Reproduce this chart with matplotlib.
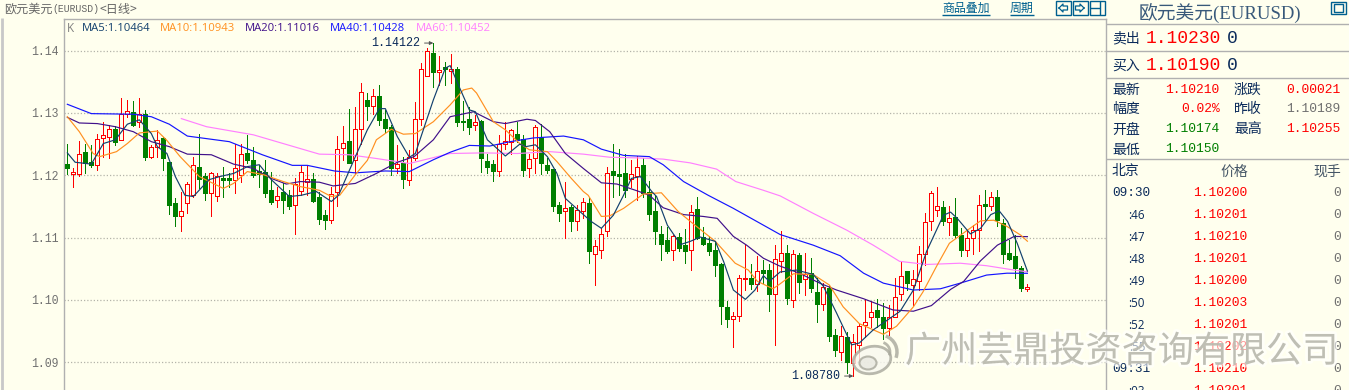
import matplotlib
matplotlib.use("Agg")
import matplotlib.pyplot as plt
import matplotlib.patheffects as pe
from matplotlib.patches import Ellipse, Rectangle, Arc

BG = '#ffffee'
UP = '#ff0000'
DOWN = '#007f00'
NAVY = '#0a2a5a'
LINK = '#00608f'
GRAY = '#707070'
CJK = 'Noto Sans CJK SC'
MONO = 'Liberation Mono'

# daily candles
opens = [1.1218,1.1202,1.1202,1.1237,1.1221,1.1217,1.1260,1.1262,1.1274,1.1256,
         1.1299,1.1302,1.1285,1.1298,1.1229,1.1245,1.1260,1.1222,1.1155,1.1134,
         1.1155,1.1168,1.1213,1.1199,1.1172,1.1167,1.1196,1.1196,1.1193,1.1201,
         1.1236,1.1225,1.1207,1.1206,1.1176,1.1161,1.1174,1.1168,1.1153,1.1175,
         1.1190,1.1194,1.1166,1.1136,1.1129,1.1174,1.1244,1.1255,1.1224,1.1275,
         1.1321,1.1312,1.1327,1.1291,1.1277,1.1211,1.1220,1.1193,1.1228,1.1291,
         1.1359,1.1396,1.1366,1.1374,1.1367,1.1371,1.1287,1.1290,1.1280,1.1287,
         1.1223,1.1218,1.1207,1.1251,1.1254,1.1267,1.1259,1.1211,1.1227,1.1262,
         1.1216,1.1210,1.1152,1.1142,1.1149,1.1126,1.1143,1.1155,1.1073,1.1081,
         1.1111,1.1207,1.1202,1.1204,1.1194,1.1199,1.1217,1.1173,1.1142,1.1106,
         1.1096,1.1080,1.1101,1.1089,1.1080,1.1146,1.1101,1.1091,1.1081,1.1058,
         1.0988,1.0970,1.0974,1.1033,1.1035,1.1025,1.1048,1.1048,1.1009,1.1063,
         1.1076,1.1000,1.1072,1.1033,1.1043,1.1013,1.0994,1.1019,1.0944,1.0916,
         1.0941,1.0899,1.0928,1.0960,1.0972,1.0984,1.0972,1.0955,1.0973,1.1009,
         1.1047,1.1024,1.1031,1.1073,1.1126,1.1144,1.1149,1.1125,1.1133,1.1105,
         1.1081,1.1100,1.1112,1.1154,1.1151,1.1166,1.1123,1.1075,1.1071,1.1051,1.10174]
closes = [1.1212,1.1205,1.1234,1.1220,1.1216,1.1259,1.1264,1.1275,1.1254,1.1299,
          1.1304,1.1281,1.1299,1.1230,1.1245,1.1257,1.1228,1.1153,1.1134,1.1142,
          1.1186,1.1216,1.1194,1.1172,1.1203,1.1199,1.1192,1.1192,1.1212,1.1235,
          1.1225,1.1201,1.1202,1.1172,1.1158,1.1167,1.1160,1.1150,1.1186,1.1206,
          1.1194,1.1159,1.1130,1.1128,1.1170,1.1242,1.1252,1.1220,1.1275,1.1333,
          1.1312,1.1327,1.1288,1.1276,1.1211,1.1218,1.1194,1.1229,1.1291,1.1370,
          1.1399,1.1366,1.1369,1.1370,1.1370,1.1285,1.1286,1.1278,1.1285,1.1227,
          1.1214,1.1207,1.1251,1.1255,1.1272,1.1257,1.1209,1.1226,1.1277,1.1220,
          1.1209,1.1151,1.1140,1.1147,1.1127,1.1145,1.1157,1.1078,1.1086,1.1106,
          1.1203,1.1201,1.1199,1.1176,1.1202,1.1214,1.1171,1.1138,1.1110,1.1090,
          1.1078,1.1102,1.1084,1.1079,1.1141,1.1100,1.1090,1.1078,1.1056,1.0990,
          1.0970,1.0975,1.1035,1.1035,1.1026,1.1047,1.1043,1.1010,1.1065,1.1075,
          1.1003,1.1074,1.1029,1.1041,1.1020,1.0994,1.1021,1.0943,1.0920,1.0942,
          1.0900,1.0932,1.0959,1.0964,1.0980,1.0972,1.0955,1.0972,1.1005,1.1039,
          1.1028,1.1034,1.1073,1.1125,1.1172,1.1150,1.1126,1.1131,1.1104,1.1080,
          1.1099,1.1113,1.1152,1.1151,1.1166,1.1128,1.1074,1.1066,1.1052,1.1020,1.1021]
highs = [1.1250,1.1211,1.1255,1.1251,1.1248,1.1266,1.1286,1.1281,1.1279,1.1324,
         1.1321,1.1320,1.1324,1.1305,1.1248,1.1272,1.1262,1.1222,1.1163,1.1174,
         1.1190,1.1230,1.1266,1.1204,1.1206,1.1203,1.1214,1.1203,1.1251,1.1251,
         1.1265,1.1246,1.1217,1.1225,1.1206,1.1182,1.1187,1.1176,1.1195,1.1215,
         1.1215,1.1203,1.1174,1.1144,1.1182,1.1263,1.1279,1.1307,1.1309,1.1348,
         1.1332,1.1338,1.1345,1.1305,1.1281,1.1249,1.1230,1.1241,1.1318,1.1380,
         1.1405,1.14122,1.1391,1.1382,1.1394,1.1373,1.1320,1.1310,1.1296,1.1289,
         1.1235,1.1225,1.1265,1.1286,1.1275,1.1286,1.1265,1.1234,1.1281,1.1282,
         1.1227,1.1210,1.1157,1.1190,1.1153,1.1152,1.1163,1.1166,1.1097,1.1115,
         1.1214,1.1250,1.1242,1.1235,1.1225,1.1231,1.1227,1.1191,1.1168,1.1118,
         1.1117,1.1105,1.1108,1.1114,1.1153,1.1165,1.1117,1.1102,1.1094,1.1060,
         1.0998,1.0980,1.1040,1.1088,1.1057,1.1071,1.1064,1.1058,1.1088,1.1111,
         1.1088,1.1080,1.1076,1.1076,1.1068,1.1035,1.1028,1.1024,1.0954,1.0959,
         1.0948,1.0945,1.0962,1.1000,1.0998,1.1001,1.0995,1.0992,1.1035,1.1063,
         1.1047,1.1048,1.1087,1.1140,1.1175,1.1181,1.1159,1.1150,1.1164,1.1115,
         1.1112,1.1121,1.1168,1.1176,1.1173,1.1176,1.1130,1.1096,1.1104,1.1054,1.10255]
lows = [1.1202,1.1182,1.1199,1.1204,1.1214,1.1209,1.1230,1.1228,1.1249,1.1256,
        1.1293,1.1279,1.1278,1.1224,1.1227,1.1230,1.1209,1.1138,1.1118,1.1110,
        1.1140,1.1166,1.1179,1.1160,1.1134,1.1159,1.1166,1.1182,1.1172,1.1190,
        1.1219,1.1198,1.1182,1.1165,1.1154,1.1149,1.1140,1.1146,1.1106,1.1168,
        1.1168,1.1158,1.1122,1.1114,1.1124,1.1151,1.1225,1.1219,1.1203,1.1251,
        1.1288,1.1299,1.1281,1.1270,1.1201,1.1203,1.1179,1.1184,1.1225,1.1281,
        1.1359,1.1342,1.1345,1.1345,1.1348,1.1279,1.1272,1.1266,1.1272,1.1205,
        1.1204,1.1191,1.1199,1.1243,1.1235,1.1254,1.1199,1.1198,1.1204,1.1202,
        1.1204,1.1143,1.1126,1.1100,1.1111,1.1112,1.1131,1.1060,1.1024,1.1068,
        1.1102,1.1166,1.1168,1.1166,1.1182,1.1160,1.1165,1.1129,1.1090,1.1064,
        1.1076,1.1064,1.1079,1.1060,1.1048,1.1098,1.1088,1.1072,1.1039,1.0961,
        1.0956,1.0924,1.0967,1.1016,1.1018,1.1014,1.1028,1.0983,1.0927,1.1045,
        1.0993,1.0989,1.1012,1.1008,1.1013,1.0964,1.0984,1.0935,1.0910,1.0904,
        1.0883,1.0878,1.0904,1.0941,1.0957,1.0956,1.0938,1.0944,1.0972,1.1000,
        1.1016,1.0992,1.1016,1.1056,1.1112,1.1135,1.1121,1.1105,1.1099,1.1071,
        1.1071,1.1073,1.1079,1.1128,1.1144,1.1119,1.1059,1.1064,1.1036,1.1014,1.1015]

# moving averages, read as (candle index, value) vertices
ma5_x = [0,1.3,4,6,8,10,12,14,15,16.6,18,19.6,21,23.6,25.4,27.7,30,32,34,37,39,41.5,44,45.2,48,50,52,53,55,57,58,61,63,
         63.8,65.4,67,68,70,73,75.4,76.4,78,80,81.6,83,85.3,87.3,89,91,92.7,94,95.5,97.4,98.2,100,102.2,103.8,105.5,108,
         109.4,111,113,114.6,116,117,118.8,121.5,124.3,126,128.2,130.7,132,134.3,137,138.8,141,143.2,146,147.2,148.3,
         150.5,152.2,153.9,155.3,156.7,158.3,160]
ma5_y = [1.1236,1.1221,1.1218,1.1251,1.1257,1.1282,1.1289,1.1267,1.1246,1.1235,1.1198,1.1168,1.1166,1.1193,1.1198,1.1203,
         1.1214,1.1217,1.1193,1.1166,1.1168,1.1174,1.1158,1.1168,1.1230,1.1273,1.1307,1.1307,1.1262,1.1229,1.1235,1.1321,1.1372,
         1.1376,1.1340,1.1305,1.1302,1.1257,1.1231,1.1250,1.1246,1.1249,1.1230,1.1203,1.1163,1.1143,1.1126,1.1115,1.1136,1.1168,
         1.1195,1.1198,1.1174,1.1166,1.1120,1.1089,1.1094,1.1101,1.1094,1.1061,1.1016,1.1001,1.1016,1.1039,1.1030,1.1045,1.1048,
         1.1041,1.1022,1.0979,1.0928,1.0931,1.0952,1.0970,1.0982,1.1016,1.1078,1.1136,1.1141,1.1131,1.1106,1.1115,1.1137,1.1143,
         1.1126,1.1091,1.10464]
ma10_x = [0,2,4.3,5.4,8.2,10,12,15,16.5,18.8,22,26,27.7,30,32.7,36,38.8,42,44,45.4,48,50,51.5,54,56,58,61,63.8,
          66,67.4,68.2,71,73,75.4,77,80,81.6,84,86,86.8,89,90.4,92.7,96,99,101.8,104.6,108,111.3,113.5,115,117.6,118.8,
          121,124.3,127,129.3,132,136,138.2,141,142.6,144.8,147,150,152.2,154.4,156.6,158.9,160]
ma10_y = [1.1294,1.1270,1.1235,1.1230,1.1238,1.1251,1.1268,1.1271,1.1257,1.1230,1.1198,1.1179,1.1187,1.1206,1.1201,1.1190,
          1.1182,1.1176,1.1166,1.1168,1.1201,1.1224,1.1257,1.1274,1.1266,1.1267,1.1286,1.1313,
          1.1337,1.1340,1.1332,1.1286,1.1273,1.1251,1.1241,1.1238,1.1222,1.1195,1.1174,1.1168,1.1134,1.1135,1.1147,1.1170,1.1172,
          1.1142,1.1120,1.1094,1.1059,1.1048,1.1030,1.1018,1.1026,1.1042,1.1041,1.1024,1.0989,1.0962,1.0945,1.0958,1.0989,1.1013,
          1.1053,1.1091,1.1112,1.1127,1.1128,1.1118,1.1104,1.10943]
ma20_x = [0,2,5,8,11,14,17,20,24,27.7,31,34,36.5,38.8,42,44.3,48,51.5,55,57.8,61,63.8,67.7,71,73,76.6,78,80.4,83,86,89,91.6,95,97,
          99.3,102.7,106,108.3,111,113.2,116,118.6,122,125.4,128.2,132.7,137.6,141,144,147.2,149.4,152.2,155,157.8,160]
ma20_y = [1.1293,1.1284,1.1283,1.1278,1.1270,1.1254,1.1246,1.1234,1.1233,1.1218,1.1211,1.1195,1.1186,1.1190,1.1189,1.1183,
          1.1187,1.1203,1.1221,1.1230,1.1257,1.1294,1.1302,1.1286,1.1283,1.1290,1.1288,1.1270,1.1235,1.1211,1.1188,1.1186,1.1175,
          1.1168,1.1148,1.1137,1.1134,1.1131,1.1102,1.1088,1.1067,1.1055,1.1043,1.1027,1.1016,1.1002,1.0984,1.0982,1.0991,1.1017,
          1.1030,1.1063,1.1088,1.1102,1.11016]
ma40_x = [0,4,11,14,17,20,27,32.5,37.5,40,44.5,48,53,57,61,63.8,67,70.4,73.8,77.7,82.7,86,89,92.7,97,99.3,102.7,106.8,111,118.8,
          124.3,128.8,132.7,136,141,145.5,148.8,153.2,156.6,160]
ma40_y = [1.1314,1.1299,1.1298,1.1294,1.1282,1.1263,1.1254,1.1233,1.1216,1.1216,1.1207,1.1204,1.1207,1.1206,1.1225,1.1237,
          1.1248,1.1247,1.1254,1.1260,1.1263,1.1257,1.1242,1.1232,1.1230,1.1217,1.1190,1.1168,1.1147,1.1105,1.1088,1.1071,1.1043,
          1.1027,1.1016,1.1018,1.1027,1.1040,1.1043,1.10428]
ma60_x = [19,23.2,31,38.8,42,47,51.5,57,63.8,69.3,75,80.4,86,90.4,95,99.3,103.8,108.2,111.4,116,118.8,124.3,129.9,134.3,138.7,
          143.2,148.8,153.2,157.8,160]
ma60_y = [1.1291,1.1278,1.1265,1.1243,1.1234,1.1233,1.1227,1.1219,1.1235,1.1236,1.1235,1.1238,1.1234,1.1229,1.1228,1.1226,
          1.1220,1.1210,1.1190,1.1176,1.1167,1.1139,1.1112,1.1088,1.1062,1.1057,1.1059,1.1055,1.1048,1.10452]

y_ticks = [1.09, 1.10, 1.11, 1.12, 1.13, 1.14]
ma_labels = ['MA5:1.10464', 'MA10:1.10943', 'MA20:1.11016', 'MA40:1.10428', 'MA60:1.10452']
ma_colors = ['#12406e', '#ff9020', '#40108a', '#1414ff', '#ff80ff']

# quote panel
times = ['09:30', ':46', ':47', ':48', ':49', ':50', ':52', ':55', '09:31', ':03']
tick_prices = ['1.10200', '1.10201', '1.10210', '1.10201', '1.10200', '1.10203', '1.10201', '1.10202', '1.10210', '1.10201']
tick_hands = ['0'] * 10

fig = plt.figure(figsize=(13.49, 3.90), dpi=100, facecolor=BG)
ax = fig.add_axes([64 / 1349, 0, (1106 - 64) / 1349, (390 - 18.5) / 390], facecolor=BG)
ax.set_xlim(-0.555, 173.1)
ax.set_ylim(1.08556, 1.14516)

n = list(range(len(opens)))
for i in n:
    up = closes[i] > opens[i]
    c = UP if up else DOWN
    ax.vlines(i, lows[i], highs[i], color=c, linewidth=0.72, zorder=2, antialiased=False)
    ax.bar(i, abs(closes[i] - opens[i]), bottom=min(opens[i], closes[i]), width=0.67,
           facecolor=BG if up else DOWN, edgecolor=c, linewidth=0.72, zorder=3, antialiased=False)

ax.plot(ma60_x, ma60_y, color=ma_colors[4], linewidth=0.85, zorder=4)
ax.plot(ma40_x, ma40_y, color=ma_colors[3], linewidth=0.85, zorder=4)
ax.plot(ma20_x, ma20_y, color=ma_colors[2], linewidth=0.85, zorder=4)
ax.plot(ma10_x, ma10_y, color=ma_colors[1], linewidth=0.85, zorder=4)
ax.plot(ma5_x, ma5_y, color=ma_colors[0], linewidth=0.85, zorder=4)

ax.set_xticks([])
ax.set_yticks(y_ticks)
ax.set_yticklabels(['%.2f' % v for v in y_ticks], family=MONO, fontsize=8.3, color=GRAY)
ax.tick_params(axis='y', length=0, pad=4)
ax.set_axisbelow(True)
ax.yaxis.grid(True, color='#b4b4aa', linestyle=(0, (1, 1.6)), linewidth=0.9)
for s in ['left', 'top', 'right']:
    ax.spines[s].set_color('#b0b0b0')
    ax.spines[s].set_linewidth(1)
ax.spines['bottom'].set_visible(False)

ax.annotate('1.14122', xy=(61, 1.14122), xytext=(-13, 0), textcoords='offset pixels', ha='right', va='center',
            family=MONO, fontsize=8.4, color=NAVY,
            arrowprops=dict(arrowstyle='-|>,head_length=0.25,head_width=0.12', color='#555555', lw=0.7, shrinkA=1, shrinkB=0))
ax.annotate('1.08780', xy=(131, 1.0878), xytext=(-13, 0), textcoords='offset pixels', ha='right', va='center',
            family=MONO, fontsize=8.4, color=NAVY,
            arrowprops=dict(arrowstyle='-|>,head_length=0.25,head_width=0.12', color='#555555', lw=0.7, shrinkA=1, shrinkB=0))

# everything around the plot is placed in image pixels
ov = fig.add_axes([0, 0, 1, 1], facecolor='none', zorder=5)
ov.set_xlim(0, 1349)
ov.set_ylim(390, 0)
ov.axis('off')


def label(x, y, s, color=NAVY, size=10, family=CJK, ha='left', **kw):
    return ov.text(x, y, s, color=color, fontsize=size, family=family, ha=ha, va='center', **kw)


def rule(x0, x1, y0, y1, color='#b0b0b0', lw=1):
    ov.plot([x0, x1], [y0, y1], color=color, linewidth=lw, solid_capstyle='butt')


# header
rule(1.5, 1.5, 18, 390, color='#c8c8c8', lw=2)
label(4.5, 9, '欧元美元', color='#666666', size=8.7)
label(52.5, 9, '(EURUSD)', color='#666666', size=7, family=MONO)
label(100, 9, '<日线>', color='#666666', size=8.7)
label(942, 8.5, '商品叠加', color=LINK, size=8.6)
label(1010, 8.5, '周期', color=LINK, size=8.6)
rule(942, 990, 14.7, 14.7, color=LINK)
rule(1010, 1033.5, 14.7, 14.7, color=LINK)
for x0 in [1055.5, 1072.5, 1089.5]:
    ov.add_patch(Rectangle((x0, 1.2), 15, 13.4, fill=False, edgecolor=LINK, linewidth=1))
ov.plot([1059, 1063, 1063, 1067.5, 1067.5, 1063, 1063, 1059], [8, 4, 6, 6, 10, 10, 12, 8], color=LINK, linewidth=0.9)
ov.plot([1084, 1080, 1080, 1075.5, 1075.5, 1080, 1080, 1084], [8, 4, 6, 6, 10, 10, 12, 8], color=LINK, linewidth=0.9)
rule(1089.5, 1100, 8, 8, color=LINK)
rule(1100, 1100, 1.2, 14.6, color=LINK)

# legend row
label(66.5, 28.5, 'K', color='#808080', size=8.4, family='Open Sans')
for lx, s, c in zip([82.3, 160.3, 245, 330.3, 416], ma_labels, ma_colors):
    label(lx, 28.5, s, color=c, size=8.1, family='Open Sans')

# quote panel
for py in [24.3, 51, 78, 159]:
    rule(1106, 1349, py, py)
label(1220, 12.5, '欧元美元(EURUSD)', color='#38597a', size=13.5, family=['Liberation Serif', CJK], ha='center')
ov.add_patch(Rectangle((1331, 1.5), 14.5, 12.8, fill=False, edgecolor=LINK, linewidth=1))
ov.add_patch(Rectangle((1334, 4.2), 8.8, 7.4, fill=False, edgecolor=LINK, linewidth=1))

label(1112, 38.5, '卖出', size=10)
label(1146, 38.5, '1.10230', color=UP, size=13, family=MONO)
label(1227, 38.5, '0', color=NAVY, size=13, family=MONO)
label(1112, 65.5, '买入', size=10)
label(1146, 65.5, '1.10190', color=UP, size=13, family=MONO)
label(1227, 65.5, '0', color=NAVY, size=13, family=MONO)

label(1112, 90, '最新', size=10)
label(1219.5, 90, '1.10210', color=UP, size=9.4, family=MONO, ha='right')
label(1234, 90, '涨跌', size=10)
label(1340.5, 90, '0.00021', color=UP, size=9.4, family=MONO, ha='right')
label(1112, 109.5, '幅度', size=10)
label(1219.5, 109.5, '0.02%', color=UP, size=9.4, family=MONO, ha='right')
label(1234, 109.5, '昨收', size=10)
label(1340.5, 109.5, '1.10189', color=GRAY, size=9.4, family=MONO, ha='right')
label(1112, 129.5, '开盘', size=10)
label(1219.5, 129.5, '1.10174', color=DOWN, size=9.4, family=MONO, ha='right')
label(1234, 129.5, '最高', size=10)
label(1340.5, 129.5, '1.10255', color=UP, size=9.4, family=MONO, ha='right')
label(1112, 149.5, '最低', size=10)
label(1219.5, 149.5, '1.10150', color=DOWN, size=9.4, family=MONO, ha='right')

label(1112, 171.5, '北京', size=10)
label(1234, 171.5, '价格', color='#445566', size=10, ha='center')
label(1341.5, 171.5, '现手', color='#445566', size=10, ha='right')

for k in range(len(times)):
    ty = 193.5 + 22 * k
    if times[k].startswith('09'):
        label(1112.5, ty, times[k], size=9.2, family=MONO)
    else:
        label(1145, ty, times[k], size=8.4, family='Open Sans', ha='right')
    label(1193, ty, tick_prices[k], color=UP, size=9.4, family=MONO)
    label(1341.5, ty, tick_hands[k], color=GRAY, size=9.4, family=MONO, ha='right')

# watermark
halo = [pe.withStroke(linewidth=4, foreground='#ffffff', alpha=0.6)]
t = label(905, 352, '广州芸鼎投资咨询有限公司', color='#b4b4a8', size=26, alpha=0.8, zorder=10)
t.set_path_effects(halo)
mark = '#a8a89c'
ov.add_patch(Ellipse((872, 360), 38, 27, angle=-12, facecolor='#f8f8f0', edgecolor=mark, linewidth=2, alpha=0.8, zorder=10))
ov.add_patch(Ellipse((868, 363), 17, 13, facecolor='#e8e8e0', edgecolor=mark, linewidth=1.5, alpha=0.8, zorder=10))
ov.add_patch(Arc((880, 352), 34, 34, theta1=-70, theta2=20, edgecolor=mark, linewidth=2.5, alpha=0.8, zorder=10))
ov.add_patch(Arc((880, 352), 20, 20, theta1=-70, theta2=20, edgecolor=mark, linewidth=2, alpha=0.8, zorder=10))

fig.savefig('out.png', dpi=100, facecolor=BG)
